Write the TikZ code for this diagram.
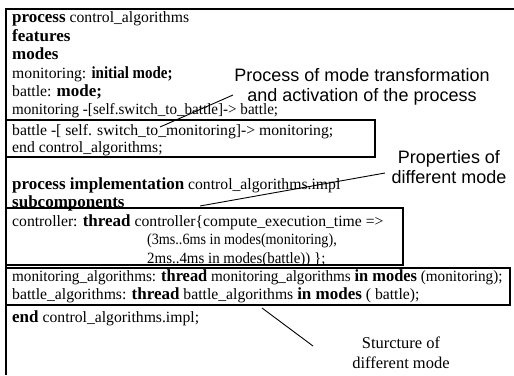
\documentclass[tikz,border=0pt]{standalone}
\usepackage{fontspec}
\usepackage{graphicx}
\setmainfont{Liberation Serif}
\newfontfamily\annofont{Liberation Sans}
% keywords are set bold and a little larger than the code text
\newcommand\kw[1]{{\fontsize{17}{18}\selectfont\bfseries #1}}
% squeeze a line of code horizontally
\newcommand\tight[2]{\scalebox{#1}[1]{#2}}
\begin{document}
\begin{tikzpicture}[x=1pt,y=-1pt,
  code/.style={anchor=base west,inner sep=0pt,font=\fontsize{15.7}{18}\selectfont},
  note/.style={align=center,inner sep=0pt,font=\annofont\fontsize{18}{20}\selectfont},
  snote/.style={align=center,inner sep=0pt,font=\fontsize{16.5}{20}\selectfont},
  frame/.style={line width=1.6pt},
  boxline/.style={line width=1.2pt},
  leader/.style={line width=0.9pt}]
\useasboundingbox (0,0) rectangle (514,375);
% outer frame: top and left rules
\draw[frame] (5,9) -- (514,9);
\draw[frame] (6,9) -- (6,375);
% framed regions
\draw[boxline] (6,120) rectangle (375,157);
\draw[boxline] (6,208) rectangle (403,265);
\draw[boxline] (6,268) rectangle (510,305);
% process type
\node[code] (l1) at (12,22) {\kw{process} control\_algorithms};
\node[code] (l2) at (12,41) {\kw{features}};
\node[code] (l3) at (12,59) {\kw{modes}};
\node[code] (l4) at (12,78) {monitoring: \tight{0.88}{\kw{initial mode;}}};
\node[code] (l5) at (12,96) {battle: \kw{mode;}};
\node[code] (l6) at (12,114) {\tight{0.96}{monitoring -[self.switch\_to\_battle]-> battle;}};
\node[code] (l7) at (12,135) {battle -[ self. switch\_to\_monitoring]-> monitoring;};
\node[code] (l8) at (12,152) {end control\_algorithms;};
% process implementation
\node[code] (l9) at (12,189) {\kw{process implementation} control\_algorithms.impl};
\node[code] (l10) at (12,207) {\kw{subcomponents}};
\node[code] (l11) at (12,226) {controller: \kw{thread} controller\{compute\_execution\_time =>};
\node[code] (l12) at (147,244) {\tight{0.9}{(3ms..6ms in modes(monitoring),}};
\node[code] (l13) at (147,263) {\tight{0.95}{2ms..4ms in modes(battle)) \};}};
\node[code] (l14) at (12,281) {\tight{0.965}{monitoring\_algorithms: \kw{thread} monitoring\_algorithms \kw{in modes} (monitoring);}};
\node[code] (l15) at (12,299) {battle\_algorithms: \kw{thread} battle\_algorithms \kw{in modes} ( battle);};
\node[code] (l16) at (12,322) {\kw{end} control\_algorithms.impl;};
% annotations
\node[note] (n1) at (362,87) {Process of mode transformation\\and activation of the process};
\node[note] (n2) at (449,167) {Properties of\\different mode};
\node[snote] (n3) at (401,353) {Sturcture of\\different mode};
\coordinate (p1) at (160,127);
\coordinate (q1) at (233,95);
\coordinate (p2) at (200,206);
\coordinate (q2) at (385,173);
\coordinate (p3) at (262,308);
\coordinate (q3) at (313,346);
\draw[leader] (p1) -- (q1);
\draw[leader] (p2) -- (q2);
\draw[leader] (p3) -- (q3);
\end{tikzpicture}
\end{document}
